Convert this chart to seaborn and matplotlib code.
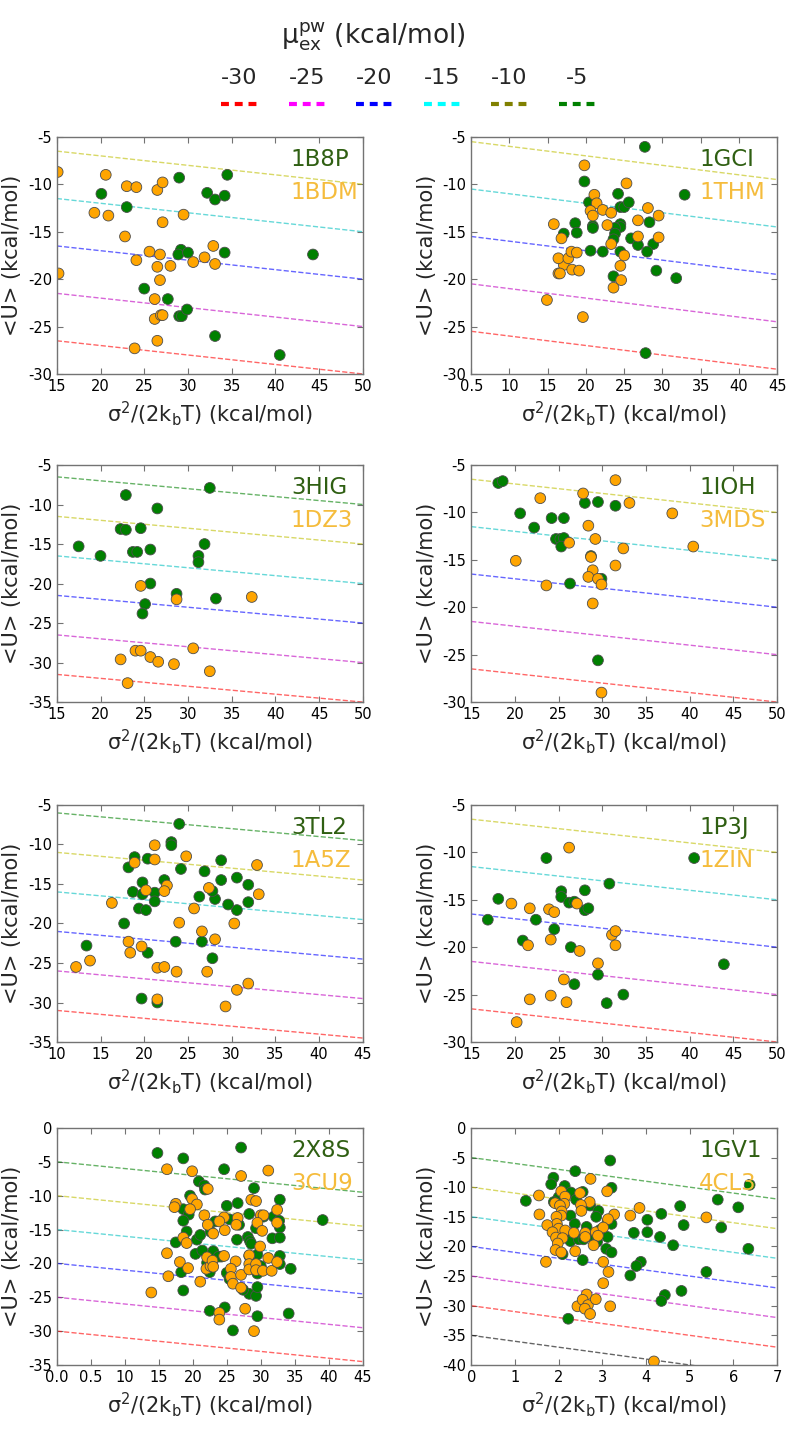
import numpy as np
import pandas as pd
import matplotlib
matplotlib.use('Agg')
import matplotlib.pyplot as plt
import seaborn as sns
from matplotlib.lines import Line2D
from matplotlib.offsetbox import VPacker

# ---- data (x in kcal/mol, <U> in kcal/mol) ----
x_1b8p = [2.01, 2.30, 2.90, 3.45, 3.22, 3.31, 3.42, 2.92, 2.89, 3.00, 3.42, 4.43, 2.50, 2.77, 2.90, 2.93, 2.99, 3.31, 4.05]
u_1b8p = [-11.0, -12.4, -9.3, -9.0, -10.9, -11.6, -11.2, -16.9, -17.4, -17.2, -17.2, -17.4, -21.0, -22.1, -23.9, -23.9, -23.2, -26.0, -28.0]
x_1bdm = [1.51, 2.06, 2.30, 2.41, 2.65, 2.71, 1.93, 2.09, 2.71, 2.95, 2.28, 2.56, 2.68, 2.41, 2.65, 2.80, 2.68, 3.06, 3.19, 3.29,
          3.31, 1.52, 2.62, 2.62, 2.69, 2.71, 2.65, 2.39]
u_1bdm = [-8.7, -9.0, -10.2, -10.3, -10.6, -9.8, -13.0, -13.3, -14.0, -13.2, -15.5, -17.1, -17.4, -18.0, -18.7, -18.6, -20.1, -18.2, -17.7, -16.5,
          -18.4, -19.4, -22.1, -24.2, -23.8, -23.8, -26.5, -27.3]

x_1gci = [2.77, 1.98, 3.29, 2.04, 2.09, 2.09, 2.42, 2.45, 2.50, 2.56, 1.86, 1.88, 1.71, 2.45, 2.45, 2.38, 2.38, 2.36, 2.59, 2.68,
          2.83, 2.88, 2.80, 2.45, 2.22, 2.06, 2.36, 2.92, 3.18, 2.78]
u_1gci = [-6.05, -9.7, -11.1, -11.9, -14.4, -14.6, -11.0, -12.4, -12.4, -11.9, -14.1, -15.1, -15.2, -14.2, -14.5, -14.6, -15.2, -15.8, -15.7, -16.4,
          -14.0, -16.3, -17.1, -17.1, -17.1, -17.0, -19.7, -19.1, -19.9, -27.8]
x_1thm = [1.98, 2.53, 2.11, 2.14, 2.06, 2.09, 2.22, 2.33, 2.28, 2.68, 2.81, 2.95, 2.95, 2.68, 2.33, 2.50, 2.45, 2.46, 2.36, 1.58,
          1.68, 1.71, 1.64, 1.77, 1.81, 1.88, 1.82, 1.91, 1.64, 1.66, 1.49, 1.96]
u_1thm = [-8.0, -9.9, -11.1, -12.0, -12.8, -13.3, -12.7, -13.0, -14.3, -13.8, -12.5, -13.3, -15.6, -15.5, -16.3, -17.5, -18.6, -20.1, -20.9, -14.2,
          -15.7, -18.5, -17.8, -17.8, -17.1, -17.2, -19.0, -19.1, -19.4, -19.4, -22.2, -24.0]

x_3hig = [2.29, 3.25, 2.65, 2.23, 2.29, 2.46, 1.75, 2.00, 2.37, 2.42, 2.57, 3.19, 3.12, 3.12, 2.57, 2.87, 2.51, 2.48, 3.32]
u_3hig = [-8.8, -7.9, -10.5, -13.1, -13.2, -13.0, -15.3, -16.5, -16.0, -16.0, -15.7, -15.0, -16.5, -17.3, -20.0, -21.3, -22.6, -23.8, -21.9]
x_1dz3 = [2.46, 2.87, 3.73, 2.40, 2.46, 3.06, 2.23, 2.57, 2.66, 2.84, 3.25, 2.31]
u_1dz3 = [-20.3, -22.0, -21.7, -28.5, -28.5, -28.2, -29.6, -29.3, -29.9, -30.2, -31.1, -32.6]

x_1ioh = [1.81, 1.86, 2.06, 2.22, 2.42, 2.56, 2.80, 2.95, 3.15, 2.47, 2.52, 2.56, 2.53, 2.87, 2.99, 2.63, 2.95]
u_1ioh = [-6.9, -6.7, -10.1, -11.6, -10.6, -10.6, -9.0, -8.9, -9.3, -12.8, -12.8, -12.7, -13.6, -14.6, -17.0, -17.5, -25.6]
x_3mds = [3.15, 2.78, 3.31, 2.29, 3.80, 2.84, 2.92, 2.62, 3.24, 4.04, 2.87, 2.01, 2.89, 3.15, 2.84, 2.95, 2.99, 2.36, 2.89, 2.99]
u_3mds = [-6.6, -8.0, -9.0, -8.5, -10.1, -11.4, -12.8, -13.2, -13.8, -13.6, -14.7, -15.1, -16.1, -15.6, -16.8, -17.0, -17.6, -17.7, -19.6, -29.0]

x_3tl2 = [2.40, 2.31, 2.31, 1.89, 2.04, 1.82, 2.42, 2.88, 2.69, 2.23, 1.98, 2.88, 3.06, 3.19, 3.19, 3.06, 2.96, 2.81, 2.78, 2.63,
          1.87, 1.98, 2.12, 2.12, 1.94, 2.02, 1.77, 1.34, 2.36, 2.66, 2.04, 2.78, 1.97, 2.15]
u_3tl2 = [-7.4, -9.7, -10.1, -11.6, -11.8, -12.9, -13.1, -12.0, -13.4, -14.5, -14.8, -14.5, -14.2, -15.1, -17.3, -18.3, -17.6, -16.9, -15.9, -16.6,
          -16.0, -16.3, -16.1, -17.2, -18.1, -18.3, -20.0, -22.8, -22.3, -22.3, -23.7, -24.4, -29.5, -30.0]
x_1a5z = [2.12, 2.12, 2.48, 1.89, 3.29, 2.26, 2.74, 2.23, 2.02, 3.31, 1.63, 2.57, 2.40, 3.03, 2.66, 2.81, 1.82, 1.97, 1.84, 1.38,
          1.22, 2.15, 2.23, 2.37, 2.72, 3.19, 3.06, 2.15, 2.93]
u_1a5z = [-10.1, -11.9, -11.5, -12.3, -12.6, -15.2, -15.5, -15.9, -15.8, -16.3, -17.4, -18.1, -19.9, -20.0, -21.0, -22.0, -22.3, -22.9, -23.7, -24.7,
          -25.5, -25.6, -25.5, -26.1, -26.1, -27.6, -28.4, -29.6, -30.5]

x_1p3j = [2.36, 4.05, 3.08, 1.81, 2.53, 2.53, 2.62, 2.68, 2.80, 2.80, 2.84, 1.69, 2.24, 2.45, 2.09, 2.64, 4.39, 2.95, 2.68, 3.24, 3.05]
u_1p3j = [-10.6, -10.6, -13.3, -14.9, -14.1, -14.7, -15.3, -15.2, -14.0, -16.1, -15.9, -17.1, -17.1, -18.1, -19.3, -20.0, -21.8, -22.9, -23.9, -25.0, -25.9]
x_1zin = [2.62, 1.96, 2.17, 2.39, 2.45, 2.71, 2.41, 2.15, 2.74, 3.11, 3.15, 3.15, 2.95, 2.56, 2.17, 2.41, 2.59, 2.02]
u_1zin = [-9.5, -15.4, -15.9, -16.0, -16.3, -15.4, -19.2, -19.8, -20.4, -18.7, -18.3, -19.8, -21.7, -23.4, -25.5, -25.1, -25.8, -27.9]

x_2x8s = [1.48, 2.71, 1.86, 2.46, 2.09, 2.17, 2.18, 2.90, 1.96, 3.28, 1.86, 1.94, 2.50, 2.66, 2.83, 3.04, 3.19, 1.86, 2.33, 2.54,
          2.68, 3.27, 3.28, 2.93, 1.91, 1.75, 2.06, 2.11, 2.26, 2.65, 2.81, 2.84, 2.86, 3.17, 3.28, 3.91, 2.04, 2.14, 2.30, 2.42,
          2.38, 2.95, 3.28, 3.28, 3.44, 2.83, 3.00, 2.95, 2.21, 2.25, 1.83, 2.50, 2.54, 2.83, 2.93, 2.95, 2.74, 1.86, 2.47, 2.25,
          2.95, 3.41, 2.59]
u_2x8s = [-3.7, -2.9, -4.5, -6.1, -7.9, -8.5, -9.1, -8.9, -10.0, -10.6, -12.0, -12.8, -11.5, -11.1, -12.7, -13.1, -13.1, -13.7, -13.8, -13.5,
          -14.3, -13.7, -14.7, -14.8, -15.3, -16.9, -16.5, -15.8, -15.3, -16.5, -16.1, -16.7, -17.1, -16.3, -16.2, -13.6, -18.6, -18.1, -18.2, -19.0,
          -19.0, -18.7, -18.9, -20.1, -20.8, -18.9, -20.4, -21.5, -19.9, -21.3, -21.3, -21.4, -22.3, -24.5, -24.8, -23.5, -23.9, -24.0, -26.5, -27.0,
          -27.8, -27.4, -29.9]
x_3cu9 = [1.62, 1.99, 2.71, 3.11, 2.22, 2.86, 2.93, 1.99, 2.06, 1.96, 1.75, 1.73, 2.17, 2.46, 2.39, 2.22, 2.66, 2.64, 3.00, 3.04,
          2.95, 3.02, 3.24, 3.24, 2.30, 2.47, 1.86, 1.91, 1.62, 1.81, 1.93, 1.64, 2.11, 1.39, 2.21, 2.20, 2.26, 2.29, 2.30, 2.46,
          2.63, 2.56, 2.56, 2.59, 2.71, 2.71, 2.83, 2.83, 2.83, 2.93, 2.93, 2.99, 3.03, 3.11, 3.16, 3.24, 2.77, 2.39, 2.39, 2.90]
u_3cu9 = [-6.1, -6.4, -7.1, -6.3, -9.0, -10.6, -10.8, -10.5, -11.3, -12.0, -11.2, -11.7, -12.9, -13.2, -13.8, -14.3, -13.3, -14.3, -12.9, -12.9,
          -14.0, -15.2, -12.1, -14.0, -15.6, -15.1, -16.2, -17.0, -18.5, -19.8, -20.7, -21.9, -22.7, -24.3, -19.1, -20.8, -20.4, -19.6, -20.5, -18.9,
          -19.7, -20.8, -22.0, -23.0, -21.7, -23.6, -18.8, -20.1, -20.9, -20.1, -21.0, -17.5, -21.1, -19.2, -21.1, -19.8, -26.7, -27.3, -28.3, -30.0]

x_1gv1 = [3.18, 2.38, 1.88, 1.83, 2.14, 3.21, 2.55, 2.28, 2.00, 1.25, 1.89, 2.40, 2.72, 2.91, 2.86, 2.27, 4.35, 4.78, 5.64, 6.11,
          5.72, 6.34, 4.86, 4.03, 4.03, 3.72, 4.32, 4.62, 3.12, 3.21, 2.95, 3.12, 2.79, 2.64, 2.37, 2.13, 2.27, 2.46, 2.57, 2.88,
          3.09, 3.21, 2.09, 2.55, 3.88, 3.78, 3.64, 5.38, 4.43, 4.35, 4.81, 2.22, 6.37]
u_1gv1 = [-5.5, -7.3, -8.4, -9.5, -9.8, -10.1, -10.8, -10.9, -11.7, -12.3, -12.5, -12.1, -13.1, -14.0, -15.0, -14.8, -14.5, -13.2, -12.1, -13.4,
          -16.8, -20.4, -16.4, -15.5, -17.6, -17.7, -18.4, -19.8, -15.8, -16.2, -17.2, -18.4, -18.5, -16.7, -16.2, -18.3, -19.1, -18.8, -18.8, -19.2,
          -20.4, -21.0, -21.3, -22.3, -22.6, -23.3, -24.9, -24.3, -28.2, -29.2, -27.5, -32.2, -9.6]
x_4cl3 = [2.73, 3.11, 2.06, 2.49, 1.55, 2.71, 2.15, 1.92, 2.13, 2.03, 2.51, 2.52, 2.07, 2.06, 1.56, 3.27, 3.13, 3.64, 3.85, 5.38,
          1.95, 1.96, 2.00, 1.74, 1.86, 2.15, 1.94, 2.09, 2.35, 2.61, 2.61, 2.85, 3.02, 2.90, 2.80, 1.98, 1.93, 2.06, 2.38, 1.71,
          3.02, 3.14, 3.02, 2.64, 2.43, 2.55, 2.67, 2.60, 2.72, 2.85, 3.18, 4.18]
u_4cl3 = [-8.6, -10.7, -10.7, -11.0, -11.4, -12.5, -11.6, -12.7, -12.8, -13.1, -13.0, -14.0, -14.1, -14.8, -14.6, -14.6, -15.4, -14.8, -13.5, -15.1,
          -15.0, -16.2, -17.0, -16.4, -17.6, -17.3, -18.5, -18.6, -17.7, -17.7, -18.4, -17.6, -16.8, -18.2, -19.8, -19.5, -20.6, -21.0, -20.8, -22.6,
          -22.6, -24.3, -26.2, -28.1, -30.1, -29.0, -29.9, -30.5, -31.4, -28.9, -30.1, -39.4]

# reference lines <U> = mu - sigma^2/(2kT)
mu_five = [-5, -10, -15, -20, -25]
col_five = ['y', 'c', 'b', 'm', 'r']
mu_six = [-5, -10, -15, -20, -25, -30]
col_six = ['g', 'y', 'c', 'b', 'm', 'r']
mu_seven = [-5, -10, -15, -20, -25, -30, -35]
col_seven = ['g', 'y', 'c', 'b', 'm', 'r', 'k']

# x tick labels as printed on the original figure
ticks_15_50 = [1.5, 2.0, 2.5, 3.0, 3.5, 4.0, 4.5, 5.0]
labels_15_50 = ['15', '20', '25', '30', '35', '40', '45', '50']
ticks_05_45 = [0.5, 1.0, 1.5, 2.0, 2.5, 3.0, 3.5, 4.0, 4.5]
labels_05_45 = ['0.5', '10', '15', '20', '25', '30', '35', '40', '45']
ticks_10_45 = [1.0, 1.5, 2.0, 2.5, 3.0, 3.5, 4.0, 4.5]
labels_10_45 = ['10', '15', '20', '25', '30', '35', '40', '45']
ticks_00_45 = [0.0, 0.5, 1.0, 1.5, 2.0, 2.5, 3.0, 3.5, 4.0, 4.5]
labels_00_45 = ['0.0', '0.5', '10', '15', '20', '25', '30', '35', '40', '45']
ticks_0_7 = [0, 1, 2, 3, 4, 5, 6, 7]
labels_0_7 = ['0', '1', '2', '3', '4', '5', '6', '7']

legend_labels = ['-30', '-25', '-20', '-15', '-10', '-5']
legend_colors = ['red', 'magenta', 'blue', 'cyan', 'olive', 'green']

sns.set_style('white')
plt.rcParams.update({
    'font.family': 'DejaVu Sans',
    'axes.unicode_minus': False,
    'axes.edgecolor': '0.45',
    'axes.linewidth': 1.0,
    'xtick.direction': 'in', 'ytick.direction': 'in',
    'xtick.bottom': True, 'xtick.top': True,
    'ytick.left': True, 'ytick.right': True,
    'xtick.color': '0.45', 'ytick.color': '0.45',
    'xtick.labelcolor': 'black', 'ytick.labelcolor': 'black',
    'xtick.major.size': 4, 'ytick.major.size': 4,
    'xtick.labelsize': 10.5, 'ytick.labelsize': 10.5,
})

fig = plt.figure(figsize=(8, 14.29), dpi=100)

GREEN_TXT = '#2f5f12'
ORANGE_TXT = '#f5bc3c'


def draw_panel(rect, xg, ug, xo, uo, name_g, name_o, xlim, xticks, xticklabels, ylim, mus, colors, text_x):
    ax = fig.add_axes(rect)
    xs = np.array(xlim, dtype=float)
    for mu, c in zip(mus, colors):
        ax.plot(xs, mu - xs, ls='--', color=c, alpha=0.6, lw=1.0, zorder=1)
    df = pd.DataFrame({'x': list(xg) + list(xo),
                       'u': list(ug) + list(uo),
                       'set': [name_g] * len(xg) + [name_o] * len(xo)})
    sns.scatterplot(data=df, x='x', y='u', hue='set', palette={name_g: 'green', name_o: 'orange'},
                    s=60, edgecolor='0.3', linewidth=0.6, legend=False, ax=ax, zorder=2)
    ax.set_xlim(xlim)
    ax.set_ylim(ylim)
    ax.set_xticks(xticks)
    ax.set_xticklabels(xticklabels)
    ax.set_yticks(np.arange(ylim[0], ylim[1] + 1, 5))
    ax.set_xlabel(r'$\mathregular{\sigma^2/(2k_bT)}$ (kcal/mol)', fontsize=15)
    ax.set_ylabel('<U> (kcal/mol)', fontsize=15)
    ax.text(text_x, 0.905, name_g, color=GREEN_TXT, fontsize=16.5, transform=ax.transAxes, va='center', ha='left')
    ax.text(text_x, 0.765, name_o, color=ORANGE_TXT, fontsize=16.5, transform=ax.transAxes, va='center', ha='left')
    return ax


W, H = 0.3825, 0.1659
LX, RX = 0.071, 0.589
rows = [0.7383, 0.5087, 0.2708, 0.0448]

draw_panel([LX, rows[0], W, H], x_1b8p, u_1b8p, x_1bdm, u_1bdm, '1B8P', '1BDM',
           (1.5, 5.0), ticks_15_50, labels_15_50, (-30, -5), mu_five, col_five, 0.765)
draw_panel([RX, rows[0], W, H], x_1gci, u_1gci, x_1thm, u_1thm, '1GCI', '1THM',
           (0.5, 4.5), ticks_05_45, labels_05_45, (-30, -5), mu_five, col_five, 0.745)
draw_panel([LX, rows[1], W, H], x_3hig, u_3hig, x_1dz3, u_1dz3, '3HIG', '1DZ3',
           (1.5, 5.0), ticks_15_50, labels_15_50, (-35, -5), mu_six, col_six, 0.765)
draw_panel([RX, rows[1], W, H], x_1ioh, u_1ioh, x_3mds, u_3mds, '1IOH', '3MDS',
           (1.5, 5.0), ticks_15_50, labels_15_50, (-30, -5), mu_five, col_five, 0.745)
draw_panel([LX, rows[2], W, H], x_3tl2, u_3tl2, x_1a5z, u_1a5z, '3TL2', '1A5Z',
           (1.0, 4.5), ticks_10_45, labels_10_45, (-35, -5), mu_six, col_six, 0.765)
draw_panel([RX, rows[2], W, H], x_1p3j, u_1p3j, x_1zin, u_1zin, '1P3J', '1ZIN',
           (1.5, 5.0), ticks_15_50, labels_15_50, (-30, -5), mu_five, col_five, 0.745)
draw_panel([LX, rows[3], W, H], x_2x8s, u_2x8s, x_3cu9, u_3cu9, '2X8S', '3CU9',
           (0.0, 4.5), ticks_00_45, labels_00_45, (-35, 0), mu_six, col_six, 0.765)
draw_panel([RX, rows[3], W, H], x_1gv1, u_1gv1, x_4cl3, u_4cl3, '1GV1', '4CL3',
           (0, 7), ticks_0_7, labels_0_7, (-40, 0), mu_seven, col_seven, 0.745)

# header legend: title + labels above dashed handles
fig.text(0.466, 0.974, r'$\mathregular{\mu^{pw}_{ex}}$ (kcal/mol)', fontsize=19, ha='center', va='center')
handles = [Line2D([], [], color=c, lw=3, dashes=(1.9, 1.4)) for c in legend_colors]
leg = fig.legend(handles, legend_labels, loc='center', bbox_to_anchor=(0.51, 0.937), ncol=6,
                 frameon=False, fontsize=16, handlelength=1.63, columnspacing=1.4,
                 markerfirst=False, handletextpad=0.35)
for col in leg._legend_handle_box.get_children():
    for item in col.get_children():
        item.__class__ = VPacker
        item.align = 'center'

fig.savefig('out.png', dpi=100)
